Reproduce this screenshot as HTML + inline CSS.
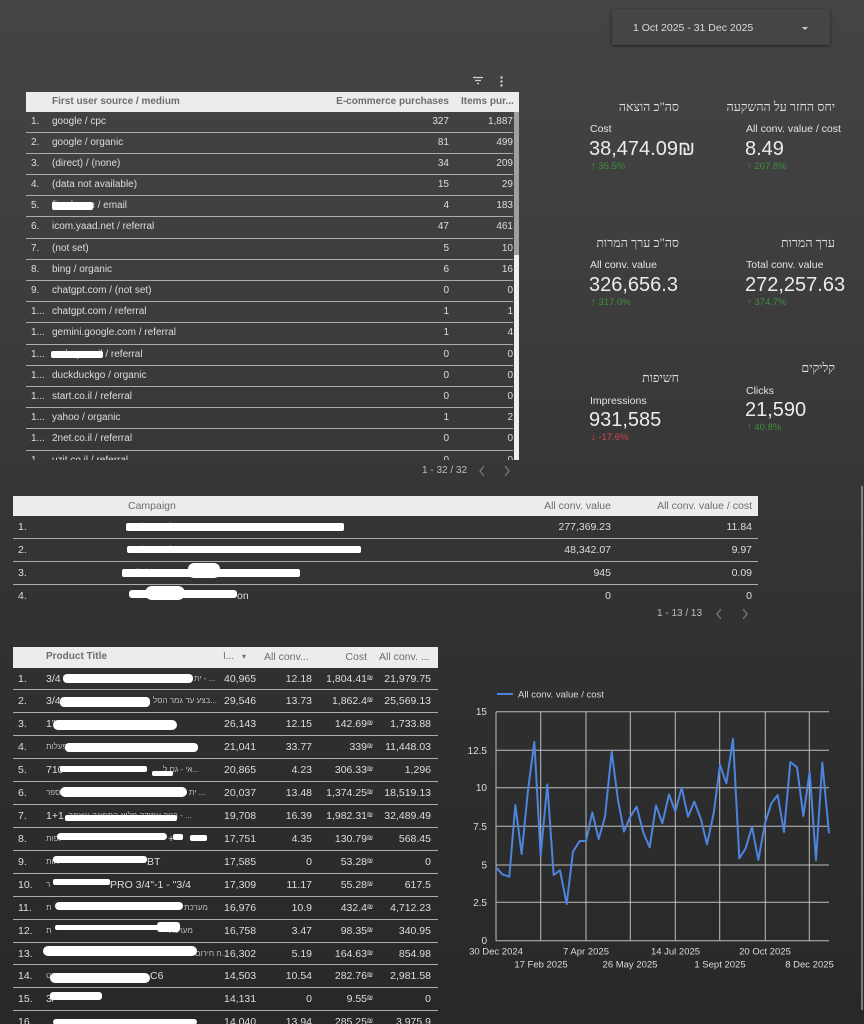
<!DOCTYPE html>
<html><head><meta charset="utf-8">
<style>
*{margin:0;padding:0;box-sizing:border-box}
html,body{width:864px;height:1024px;overflow:hidden}
body{position:relative;background:linear-gradient(180deg,#444 0,#3f3f3f 230px,#363636 480px,#2e2e2e 740px,#282828 1024px);font-family:"Liberation Sans","DejaVu Sans",sans-serif;color:#ddd}
.a{position:absolute;white-space:nowrap;line-height:1}
.hdr{position:absolute;background:#ececec;color:#6d6d6d}
.hdr span{position:absolute;white-space:nowrap;line-height:20px;top:0}
.he{position:absolute;white-space:nowrap;line-height:1;font-family:"Liberation Serif","DejaVu Serif",serif;direction:rtl;font-size:12.5px;color:#dedede}
.lab{font-size:10.5px;color:#e4e4e4}
.big{font-size:20px;color:#ececec}
.up{font-size:9.5px;color:#3f8f3f}
.dn{font-size:9.5px;color:#d64545}
.blob{position:absolute;background:#fff;border-radius:4px}
.tb{position:absolute;overflow:hidden}
.r{position:relative;border-bottom:1px solid #adadad;font-size:10px;color:#dedede}
.r span{position:absolute;white-space:nowrap;top:0}
.t1 .r{height:21.2px;line-height:20px}
.t2 .r{height:22.9px;line-height:22px;font-size:10.5px}
.t3 .r{height:22.93px;line-height:22px;font-size:10.5px}
.r.nb{border-bottom:none}
.sm{font-size:7px}
.hb{font-size:8px;color:#bdbdbd}
</style></head><body>

<!-- date picker -->
<div class="a" style="left:612px;top:9px;width:218px;height:36px;background:#454545;box-shadow:0 1px 3px rgba(0,0,0,.55)"></div>
<div class="a" style="left:633px;top:23px;font-size:10.5px;color:#dcdcdc">1 Oct 2025 - 31 Dec 2025</div>

<!-- Table 1 -->
<div class="hdr" style="left:26px;top:92px;width:493px;height:20px;font-size:10px;font-weight:bold">
  <span style="left:26px">First user source / medium</span>
  <span style="right:70px">E-commerce purchases</span>
  <span style="left:435px">Items pur...</span>
</div>
<div class="tb t1" style="left:26px;top:111.5px;width:487px;height:348.5px">
<div class="r"><span style="left:5px">1.</span><span style="left:26px">google / cpc</span><span style="right:64px">327</span><span style="right:0">1,887</span></div>
<div class="r"><span style="left:5px">2.</span><span style="left:26px">google / organic</span><span style="right:64px">81</span><span style="right:0">499</span></div>
<div class="r"><span style="left:5px">3.</span><span style="left:26px">(direct) / (none)</span><span style="right:64px">34</span><span style="right:0">209</span></div>
<div class="r"><span style="left:5px">4.</span><span style="left:26px">(data not available)</span><span style="right:64px">15</span><span style="right:0">29</span></div>
<div class="r"><span style="left:5px">5.</span><span style="left:26px">fixed.com / email</span><span style="right:64px">4</span><span style="right:0">183</span></div>
<div class="r"><span style="left:5px">6.</span><span style="left:26px">icom.yaad.net / referral</span><span style="right:64px">47</span><span style="right:0">461</span></div>
<div class="r"><span style="left:5px">7.</span><span style="left:26px">(not set)</span><span style="right:64px">5</span><span style="right:0">10</span></div>
<div class="r"><span style="left:5px">8.</span><span style="left:26px">bing / organic</span><span style="right:64px">6</span><span style="right:0">16</span></div>
<div class="r"><span style="left:5px">9.</span><span style="left:26px">chatgpt.com / (not set)</span><span style="right:64px">0</span><span style="right:0">0</span></div>
<div class="r"><span style="left:5px">1...</span><span style="left:26px">chatgpt.com / referral</span><span style="right:64px">1</span><span style="right:0">1</span></div>
<div class="r"><span style="left:5px">1...</span><span style="left:26px">gemini.google.com / referral</span><span style="right:64px">1</span><span style="right:0">4</span></div>
<div class="r"><span style="left:5px">1...</span><span style="left:26px">mshop.co.il / referral</span><span style="right:64px">0</span><span style="right:0">0</span></div>
<div class="r"><span style="left:5px">1...</span><span style="left:26px">duckduckgo / organic</span><span style="right:64px">0</span><span style="right:0">0</span></div>
<div class="r"><span style="left:5px">1...</span><span style="left:26px">start.co.il / referral</span><span style="right:64px">0</span><span style="right:0">0</span></div>
<div class="r"><span style="left:5px">1...</span><span style="left:26px">yahoo / organic</span><span style="right:64px">1</span><span style="right:0">2</span></div>
<div class="r"><span style="left:5px">1...</span><span style="left:26px">2net.co.il / referral</span><span style="right:64px">0</span><span style="right:0">0</span></div>
<div class="r"><span style="left:5px">1...</span><span style="left:26px">uzit.co.il / referral</span><span style="right:64px">0</span><span style="right:0">0</span></div>
</div>
<div class="a" style="left:513.5px;top:112px;width:5.5px;height:348px;background:#efefef"></div>
<div class="a" style="left:513.5px;top:112px;width:5px;height:143px;background:#9f9f9f"></div>
<div class="a" style="left:422px;top:466px;font-size:10px;color:#bdbdbd">1 - 32 / 32</div>

<!-- KPIs -->
<div class="he" style="right:185px;top:101px">סה"כ הוצאה</div>
<div class="he" style="right:29px;top:101px">יחס החזר על ההשקעה</div>
<div class="a lab" style="left:590px;top:124px">Cost</div>
<div class="a lab" style="left:746px;top:124px">All conv. value / cost</div>
<div class="a big" style="left:589px;top:139px">38,474.09₪</div>
<div class="a big" style="left:745px;top:139px">8.49</div>
<div class="a up" style="left:591px;top:162px">↑ 35.5%</div>
<div class="a up" style="left:747px;top:162px">↑ 207.8%</div>

<div class="he" style="right:185px;top:237px">סה"כ ערך המרות</div>
<div class="he" style="right:29px;top:237px">ערך המרות</div>
<div class="a lab" style="left:590px;top:260px">All conv. value</div>
<div class="a lab" style="left:746px;top:260px">Total conv. value</div>
<div class="a big" style="left:589px;top:275px">326,656.3</div>
<div class="a big" style="left:745px;top:275px">272,257.63</div>
<div class="a up" style="left:591px;top:298px">↑ 317.0%</div>
<div class="a up" style="left:747px;top:298px">↑ 374.7%</div>

<div class="he" style="right:185px;top:372px">חשיפות</div>
<div class="he" style="right:29px;top:362px">קליקים</div>
<div class="a lab" style="left:590px;top:396px">Impressions</div>
<div class="a lab" style="left:746px;top:386px">Clicks</div>
<div class="a big" style="left:589px;top:410px">931,585</div>
<div class="a big" style="left:745px;top:400px">21,590</div>
<div class="a dn" style="left:591px;top:433px">↓ -17.6%</div>
<div class="a up" style="left:747px;top:423px">↑ 40.8%</div>

<!-- Campaign table -->
<div class="hdr" style="left:13px;top:496px;width:745px;height:20px;font-size:10.5px">
  <span style="left:115px">Campaign</span>
  <span style="right:147px">All conv. value</span>
  <span style="right:6px">All conv. value / cost</span>
</div>
<div class="tb t2" style="left:13px;top:516px;width:745px;height:92px">
<div class="r"><span style="left:5px">1.</span><span style="left:115px;color:#aaa">Sale Performance Max</span><span style="right:147px">277,369.23</span><span style="right:6px">11.84</span></div>
<div class="r"><span style="left:5px">2.</span><span style="left:115px;color:#aaa">Sale Performance</span><span style="right:147px">48,342.07</span><span style="right:6px">9.97</span></div>
<div class="r"><span style="left:5px">3.</span><span style="left:115px;color:#aaa">Clicks</span><span style="right:147px">945</span><span style="right:6px">0.09</span></div>
<div class="r nb"><span style="left:5px">4.</span><span style="left:224px">on</span><span style="right:147px">0</span><span style="right:6px">0</span></div>
</div>
<div class="a" style="left:657px;top:609px;font-size:10px;color:#bdbdbd">1 - 13 / 13</div>

<!-- Product table -->
<div class="hdr" style="left:13px;top:647px;width:425px;height:20.5px;font-size:10px;font-weight:bold">
  <span style="left:33px">Product Title</span>
  <span style="left:210px;font-weight:normal">I...</span>
  <span style="left:229px;font-weight:normal;font-size:8px">▾</span>
  <span style="left:251px;font-weight:normal;font-size:10.5px">All conv...</span>
  <span style="right:71px;font-weight:normal;font-size:10.5px">Cost</span>
  <span style="left:366px;font-weight:normal;font-size:10.5px">All conv. ...</span>
</div>
<div class="tb t3" style="left:13px;top:667.5px;width:425px;height:357px">
<div class="r"><span style="left:5px">1.</span><span style="left:33px">3/4</span><span class="hb" style="left:181px">ית - ...</span><span style="left:211px">40,965</span><span style="right:126px">12.18</span><span style="right:71px">1,804.41<span class="sm">₪</span></span><span style="right:7px">21,979.75</span></div>
<div class="r"><span style="left:5px">2.</span><span style="left:33px">3/4</span><span class="hb" style="left:140px">בצע עד גמר הסל...</span><span style="left:211px">29,546</span><span style="right:126px">13.73</span><span style="right:71px">1,862.4<span class="sm">₪</span></span><span style="right:7px">25,569.13</span></div>
<div class="r"><span style="left:5px">3.</span><span style="left:33px">1"</span><span style="left:211px">26,143</span><span style="right:126px">12.15</span><span style="right:71px">142.69<span class="sm">₪</span></span><span style="right:7px">1,733.88</span></div>
<div class="r"><span style="left:5px">4.</span><span class="hb" style="left:33px">פעלות</span><span style="left:211px">21,041</span><span style="right:126px">33.77</span><span style="right:71px">339<span class="sm">₪</span></span><span style="right:7px">11,448.03</span></div>
<div class="r"><span style="left:5px">5.</span><span style="left:33px">710</span><span class="hb" style="left:150px">אי - גם ל...</span><span style="left:211px">20,865</span><span style="right:126px">4.23</span><span style="right:71px">306.33<span class="sm">₪</span></span><span style="right:7px">1,296</span></div>
<div class="r"><span style="left:5px">6.</span><span class="hb" style="left:33px">מספר</span><span class="hb" style="left:176px">ית ...</span><span style="left:211px">20,037</span><span style="right:126px">13.48</span><span style="right:71px">1,374.25<span class="sm">₪</span></span><span style="right:7px">18,519.13</span></div>
<div class="r"><span style="left:5px">7.</span><span style="left:33px">1+1</span><span class="hb" style="left:55px">בניה עמידה מלוא התמונה עוצמה - ...</span><span style="left:211px">19,708</span><span style="right:126px">16.39</span><span style="right:71px">1,982.31<span class="sm">₪</span></span><span style="right:7px">32,489.49</span></div>
<div class="r"><span style="left:5px">8.</span><span class="hb" style="left:33px">לפות</span><span style="left:155px">+</span><span style="left:211px">17,751</span><span style="right:126px">4.35</span><span style="right:71px">130.79<span class="sm">₪</span></span><span style="right:7px">568.45</span></div>
<div class="r"><span style="left:5px">9.</span><span class="hb" style="left:33px">תות</span><span style="left:134px">BT</span><span style="left:211px">17,585</span><span style="right:126px">0</span><span style="right:71px">53.28<span class="sm">₪</span></span><span style="right:7px">0</span></div>
<div class="r"><span style="left:5px">10.</span><span class="hb" style="left:33px">ר</span><span style="left:97px">PRO 3/4"-1 - "3/4</span><span style="left:211px">17,309</span><span style="right:126px">11.17</span><span style="right:71px">55.28<span class="sm">₪</span></span><span style="right:7px">617.5</span></div>
<div class="r"><span style="left:5px">11.</span><span class="hb" style="left:33px">ת</span><span class="hb" style="left:171px">מערכת</span><span style="left:211px">16,976</span><span style="right:126px">10.9</span><span style="right:71px">432.4<span class="sm">₪</span></span><span style="right:7px">4,712.23</span></div>
<div class="r"><span style="left:5px">12.</span><span class="hb" style="left:33px">ת</span><span class="hb" style="left:156px">מערכת</span><span style="left:211px">16,758</span><span style="right:126px">3.47</span><span style="right:71px">98.35<span class="sm">₪</span></span><span style="right:7px">340.95</span></div>
<div class="r"><span style="left:5px">13.</span><span class="hb" style="left:182px">ח חירום...</span><span style="left:211px">16,302</span><span style="right:126px">5.19</span><span style="right:71px">164.63<span class="sm">₪</span></span><span style="right:7px">854.98</span></div>
<div class="r"><span style="left:5px">14.</span><span class="hb" style="left:33px">פריט</span><span style="left:137px">C6</span><span style="left:211px">14,503</span><span style="right:126px">10.54</span><span style="right:71px">282.76<span class="sm">₪</span></span><span style="right:7px">2,981.58</span></div>
<div class="r"><span style="left:5px">15.</span><span style="left:33px">3/</span><span style="left:211px">14,131</span><span style="right:126px">0</span><span style="right:71px">9.55<span class="sm">₪</span></span><span style="right:7px">0</span></div>
<div class="r"><span style="left:5px">16.</span><span style="left:211px">14,040</span><span style="right:126px">13.94</span><span style="right:71px">285.25<span class="sm">₪</span></span><span style="right:7px">3,975.9</span></div>
</div>

<!-- redaction blobs -->
<div class="blob" style="left:52px;top:202px;width:41px;height:8px;border-radius:2px"></div>
<div class="blob" style="left:51px;top:351px;width:52px;height:7px;border-radius:2px"></div>
<div class="blob" style="left:126px;top:523px;width:218px;height:8px;border-radius:2px"></div>
<div class="blob" style="left:127px;top:546px;width:234px;height:7px;border-radius:2px"></div>
<div class="blob" style="left:122px;top:569px;width:178px;height:8px;border-radius:2px"></div>
<div class="blob" style="left:188px;top:563px;width:32px;height:15px;border-radius:6px"></div>
<div class="blob" style="left:129px;top:590px;width:108px;height:8px;border-radius:3px"></div>
<div class="blob" style="left:145px;top:586px;width:40px;height:14px;border-radius:7px"></div>

<div class="blob" style="left:63px;top:674px;width:130px;height:9px"></div>
<div class="blob" style="left:60px;top:697px;width:90px;height:10px"></div>
<div class="blob" style="left:53px;top:720px;width:124px;height:10px;border-radius:6px"></div>
<div class="blob" style="left:65px;top:743px;width:133px;height:9px"></div>
<div class="blob" style="left:60px;top:766px;width:87px;height:6px;border-radius:2px"></div>
<div class="blob" style="left:152px;top:771px;width:21px;height:5px;border-radius:2px"></div>
<div class="blob" style="left:60px;top:787px;width:127px;height:10px;border-radius:6px"></div>
<div class="blob" style="left:65px;top:815px;width:112px;height:6px;border-radius:2px"></div>
<div class="blob" style="left:57px;top:833px;width:110px;height:7px"></div>
<div class="blob" style="left:173px;top:834px;width:10px;height:6px;border-radius:2px"></div>
<div class="blob" style="left:190px;top:835px;width:17px;height:6px;border-radius:2px"></div>
<div class="blob" style="left:53px;top:856px;width:94px;height:7px;border-radius:3px"></div>
<div class="blob" style="left:53px;top:879px;width:57px;height:6px;border-radius:2px"></div>
<div class="blob" style="left:55px;top:902px;width:128px;height:8px;border-radius:4px"></div>
<div class="blob" style="left:55px;top:925px;width:112px;height:5px;border-radius:2px"></div>
<div class="blob" style="left:157px;top:922px;width:23px;height:10px;border-radius:3px"></div>
<div class="blob" style="left:43px;top:946px;width:154px;height:10px;border-radius:5px"></div>
<div class="blob" style="left:50px;top:973px;width:100px;height:10px;border-radius:5px"></div>
<div class="blob" style="left:50px;top:992px;width:52px;height:8px;border-radius:3px"></div>
<div class="blob" style="left:53px;top:1019px;width:144px;height:6px;border-radius:3px"></div>

<svg class="a" style="left:0;top:0" width="864" height="1024" viewBox="0 0 864 1024">
  <!-- date picker arrow -->
  <polygon points="802,27 808,27 805,30" fill="#cfcfcf"/>
  <!-- filter icon -->
  <g stroke="#cfcfcf" stroke-width="1.3">
    <line x1="473" y1="77.5" x2="483" y2="77.5"/>
    <line x1="475" y1="80.5" x2="481" y2="80.5"/>
    <line x1="477" y1="83.5" x2="479" y2="83.5"/>
  </g>
  <g fill="#cfcfcf"><circle cx="501.5" cy="77.5" r="1.2"/><circle cx="501.5" cy="81.5" r="1.2"/><circle cx="501.5" cy="85.5" r="1.2"/></g>
  <!-- chevrons -->
  <g fill="none" stroke="#7a7a7a" stroke-width="1.2">
    <polyline points="484,466 480,471 484,476"/>
    <polyline points="505,466 509,471 505,476"/>
    <polyline points="721,609 717,614 721,619"/>
    <polyline points="743,609 747,614 743,619"/>
  </g>
  <!-- right edge line -->
  <rect x="861.5" y="486" width="1" height="524" fill="#cdcdcd"/>

  <!-- chart grid -->
  <g stroke="#bdbdbd" stroke-width="1">
    <line x1="496" y1="711.7" x2="829" y2="711.7"/>
    <line x1="496" y1="750.3" x2="829" y2="750.3"/>
    <line x1="496" y1="787.7" x2="829" y2="787.7"/>
    <line x1="496" y1="826.3" x2="829" y2="826.3"/>
    <line x1="496" y1="865" x2="829" y2="865"/>
    <line x1="496" y1="902.3" x2="829" y2="902.3"/>
    <line x1="496" y1="940.7" x2="829" y2="940.7"/>
    <line x1="496" y1="711.7" x2="496" y2="940.7"/>
    <line x1="540.7" y1="711.7" x2="540.7" y2="940.7"/>
    <line x1="586" y1="711.7" x2="586" y2="940.7"/>
    <line x1="630.3" y1="711.7" x2="630.3" y2="940.7"/>
    <line x1="675.3" y1="711.7" x2="675.3" y2="940.7"/>
    <line x1="719.7" y1="711.7" x2="719.7" y2="940.7"/>
    <line x1="765.3" y1="711.7" x2="765.3" y2="940.7"/>
    <line x1="809.3" y1="711.7" x2="809.3" y2="940.7"/>
  </g>
  <g font-family="Liberation Sans, sans-serif" font-size="10" fill="#dcdcdc" text-anchor="end">
    <text x="487" y="715.2">15</text>
    <text x="487" y="753.8">12.5</text>
    <text x="487" y="791.2">10</text>
    <text x="487" y="829.8">7.5</text>
    <text x="487" y="868.5">5</text>
    <text x="487" y="905.8">2.5</text>
    <text x="487" y="944.2">0</text>
  </g>
  <g font-family="Liberation Sans, sans-serif" font-size="9.5" fill="#dcdcdc" text-anchor="middle">
    <text x="496" y="954.5">30 Dec 2024</text>
    <text x="586" y="954.5">7 Apr 2025</text>
    <text x="675.5" y="954.5">14 Jul 2025</text>
    <text x="765" y="954.5">20 Oct 2025</text>
    <text x="541" y="967.5">17 Feb 2025</text>
    <text x="630" y="967.5">26 May 2025</text>
    <text x="720" y="967.5">1 Sept 2025</text>
    <text x="809.5" y="967.5">8 Dec 2025</text>
  </g>
  <line x1="497" y1="694" x2="513" y2="694" stroke="#4d84dd" stroke-width="2"/>
  <text x="518" y="697.3" font-family="Liberation Sans, sans-serif" font-size="9.5" fill="#dcdcdc">All conv. value / cost</text>
  <g transform="translate(450,680) scale(0.33333)">
    <polyline fill="none" stroke="#4d84dd" stroke-width="6" stroke-linejoin="round" points="138,562 157,583 178,590 196,375 215,522 234,330 253,186 272,527 292,313 311,585 330,571 350,672 369,515 389,483 408,483 427,397 446,477 465,410 485,215 504,360 522,455 541,410 560,380 580,458 599,502 618,376 637,430 657,343 676,395 695,323 714,410 733,365 753,418 771,493 791,400 810,255 829,310 849,177 868,535 887,505 906,440 925,540 945,430 964,370 983,345 1002,456 1021,246 1041,262 1060,408 1079,276 1098,540 1117,248 1137,460"/>
  </g>
</svg>
</body></html>
